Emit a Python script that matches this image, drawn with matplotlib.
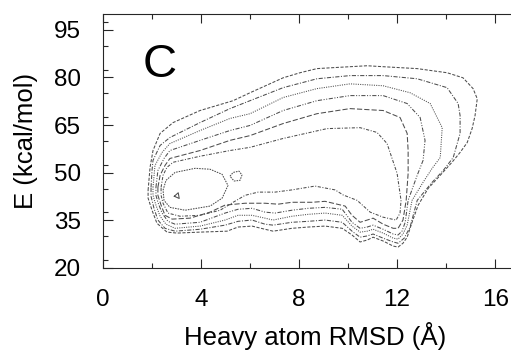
import numpy as np
import matplotlib
matplotlib.use("Agg")
import matplotlib.pyplot as plt
from matplotlib.ticker import MultipleLocator

plt.rcParams['font.family'] = ['Liberation Sans', 'DejaVu Sans']

# contour lines, outer level first (x = RMSD in A, y = E in kcal/mol)
c1 = [(1.84, 44.5), (1.92, 51.7), (2.04, 57.0), (2.33, 62.4), (2.86, 65.8), (3.96, 69.6),
      (5.31, 72.7), (6.0, 75.2), (7.35, 79.9), (8.04, 81.5), (8.73, 82.8), (9.39, 83.1),
      (10.08, 83.4), (10.78, 83.7), (11.43, 83.4), (12.12, 83.1), (12.82, 82.8), (13.47, 82.1),
      (14.04, 81.5), (14.69, 79.9), (15.1, 76.5), (15.27, 73.3), (15.18, 68.0), (15.06, 63.9),
      (14.86, 59.5), (14.57, 56.4), (14.24, 53.3), (13.76, 49.2), (13.27, 45.1), (12.86, 39.8),
      (12.61, 34.4), (12.41, 29.7), (12.24, 27.8), (12.04, 26.6), (11.84, 26.9), (11.43, 28.5),
      (11.02, 29.7), (10.78, 28.8), (10.49, 28.2), (10.16, 30.4), (9.76, 32.5), (9.06, 33.2),
      (8.37, 32.9), (7.71, 32.5), (6.94, 31.6), (6.61, 32.2), (6.08, 33.2), (5.51, 32.9),
      (5.06, 31.6), (3.96, 31.3), (3.02, 31.0), (2.61, 31.3), (2.2, 34.1), (2.0, 38.2),
      (1.84, 42.0)]
c2 = [(1.96, 45.4), (2.0, 50.7), (2.04, 53.9), (2.33, 58.6), (2.73, 61.1), (3.96, 65.8),
      (5.18, 70.2), (6.0, 72.7), (7.35, 76.8), (8.73, 79.6), (10.08, 80.6), (11.43, 80.6),
      (12.82, 79.6), (14.04, 76.8), (14.49, 71.8), (14.57, 68.0), (14.57, 62.4), (14.29, 54.8),
      (13.88, 50.7), (13.43, 47.0), (12.82, 41.3), (12.53, 32.9), (12.29, 29.4), (12.04, 27.8),
      (11.84, 28.2), (11.43, 29.4), (11.02, 30.7), (10.78, 30.1), (10.49, 29.7), (10.16, 31.6),
      (9.76, 34.4), (9.06, 35.1), (8.37, 34.7), (7.71, 34.4), (6.94, 33.5), (6.61, 33.8),
      (6.08, 35.1), (5.51, 34.7), (4.98, 33.5), (3.96, 32.2), (2.94, 31.6), (2.53, 32.5),
      (2.24, 35.1), (2.08, 38.8), (1.96, 42.6)]
c3 = [(2.04, 45.4), (2.12, 52.3), (2.41, 56.4), (2.73, 59.2), (3.96, 63.3), (5.18, 67.1),
      (6.0, 68.6), (7.35, 73.7), (8.73, 76.5), (10.08, 78.0), (11.43, 77.4), (12.53, 75.2),
      (13.35, 71.8), (13.84, 64.2), (13.76, 54.8), (13.43, 51.4), (13.06, 47.0), (12.61, 41.3),
      (12.41, 33.5), (12.24, 30.7), (12.04, 29.1), (11.84, 29.4), (11.43, 31.0), (11.02, 32.2),
      (10.78, 31.6), (10.49, 31.3), (10.16, 33.2), (9.76, 36.6), (9.06, 37.3), (8.37, 36.9),
      (7.71, 36.3), (6.94, 35.1), (6.61, 35.7), (6.08, 36.6), (5.51, 36.6), (4.98, 35.1),
      (3.96, 33.2), (2.94, 32.5), (2.57, 33.8), (2.33, 36.3), (2.16, 39.8), (2.04, 42.9)]
c4 = [(2.16, 45.4), (2.24, 50.7), (2.49, 54.5), (2.73, 57.0), (3.96, 60.2), (5.18, 63.3),
      (6.0, 64.9), (7.35, 69.6), (8.73, 72.7), (10.08, 74.3), (11.43, 74.3), (12.41, 71.8),
      (12.94, 67.4), (13.14, 60.2), (13.06, 53.9), (12.82, 49.2), (12.45, 41.3), (12.33, 34.4),
      (12.2, 31.6), (12.04, 30.4), (11.84, 30.7), (11.43, 32.2), (11.02, 33.5), (10.78, 32.9),
      (10.49, 32.5), (10.16, 34.4), (9.76, 38.5), (9.06, 39.1), (8.37, 38.8), (7.71, 38.2),
      (7.02, 37.3), (6.61, 37.6), (6.08, 38.8), (5.51, 38.5), (4.98, 37.3), (3.96, 34.4),
      (2.94, 33.8), (2.65, 34.7), (2.41, 37.3), (2.24, 40.7), (2.16, 42.9)]
c5 = [(2.24, 45.4), (2.33, 49.2), (2.53, 52.3), (2.73, 54.5), (3.96, 57.0), (5.18, 60.2),
      (6.0, 61.7), (7.35, 65.5), (8.73, 68.6), (10.08, 70.2), (11.43, 69.6), (12.12, 67.4),
      (12.41, 62.4), (12.45, 57.0), (12.45, 49.8), (12.37, 41.3), (12.24, 35.1), (12.04, 32.5),
      (11.84, 32.5), (11.43, 33.8), (11.02, 35.7), (10.78, 35.1), (10.49, 34.4), (10.16, 36.6),
      (9.88, 39.5), (9.06, 41.0), (8.53, 40.7), (7.71, 40.7), (7.14, 40.1), (6.61, 40.4),
      (5.8, 40.4), (4.98, 39.8), (4.37, 37.6), (3.55, 35.7), (2.82, 35.4), (2.53, 36.6),
      (2.37, 39.8), (2.24, 42.9)]
c6 = [(2.37, 45.4), (2.45, 49.2), (2.61, 51.7), (2.86, 53.3), (3.96, 55.2), (5.18, 57.0),
      (6.0, 58.0), (7.35, 60.8), (9.14, 63.9), (10.49, 64.2), (11.18, 62.7), (11.59, 59.2),
      (12.0, 49.8), (12.16, 41.3), (12.12, 37.3), (11.96, 35.1), (11.43, 36.0), (10.9, 37.6),
      (10.37, 41.3), (9.8, 43.0), (9.47, 44.6), (8.65, 45.8), (7.71, 44.6), (7.02, 43.9),
      (6.33, 43.9), (5.8, 42.9), (5.31, 40.7), (4.78, 38.2), (3.96, 36.6), (3.14, 36.3),
      (2.65, 37.3), (2.45, 40.4), (2.37, 42.9)]
c7 = [(2.45, 44.5), (2.57, 47.6), (2.94, 50.1), (3.76, 51.4), (4.37, 51.1), (4.86, 49.5),
      (5.1, 46.0), (4.86, 42.0), (4.37, 39.5), (3.35, 38.2), (2.73, 39.1), (2.49, 41.3)]
c7b = [(5.18, 48.9), (5.31, 50.1), (5.55, 50.5), (5.67, 49.3), (5.59, 47.6), (5.35, 47.4)]
c8 = [(2.91, 42.6), (3.07, 43.7), (3.11, 41.9)]

contours = [c1, c2, c3, c4, c5, c6, c7, c7b, c8]
styles = [(0, (3, 1.5)), (0, (4, 1.5, 1, 1.5)), (0, (1, 1.2)), (0, (4, 1.5, 1, 1.5, 1, 1.5)),
          (0, (5, 2)), (0, (3, 1.5, 1, 1.5)), (0, (1.5, 1)), (0, (1.5, 1)), '-']

xticks = [0, 4, 8, 12, 16]
yticks = [20, 35, 50, 65, 80, 95]

fig = plt.figure(figsize=(5.11, 3.56), dpi=100)
ax = fig.add_axes([103 / 511, 88 / 356, 424 / 511, 254 / 356])

for c, ls in zip(contours, styles):
    pts = np.array(c + [c[0]])
    ax.plot(pts[:, 0], pts[:, 1], color='0.3', lw=0.75, ls=ls)

ax.set_xlim(0, 17.3)
ax.set_ylim(20, 100)
ax.set_xticks(xticks)
ax.set_yticks(yticks)
ax.xaxis.set_minor_locator(MultipleLocator(2))
ax.yaxis.set_minor_locator(MultipleLocator(7.5))
ax.tick_params(which='both', direction='in', top=True, right=False, labelsize=17.5,
               width=0.8, color='0.15')
ax.tick_params(axis='x', which='major', length=6.8, pad=15)
ax.tick_params(axis='y', which='major', length=7.5, pad=16)
ax.tick_params(which='minor', length=3.8)
for s in ax.spines.values():
    s.set_linewidth(0.8)
    s.set_color('0.15')

ax.set_xlabel('Heavy atom RMSD (Å)', fontsize=18.5, labelpad=8)
ax.set_ylabel('E (kcal/mol)', fontsize=18.5, labelpad=11)
ax.text(2.33, 84, 'C', fontsize=34, ha='center', va='center')

fig.savefig('out.png', dpi=100)
